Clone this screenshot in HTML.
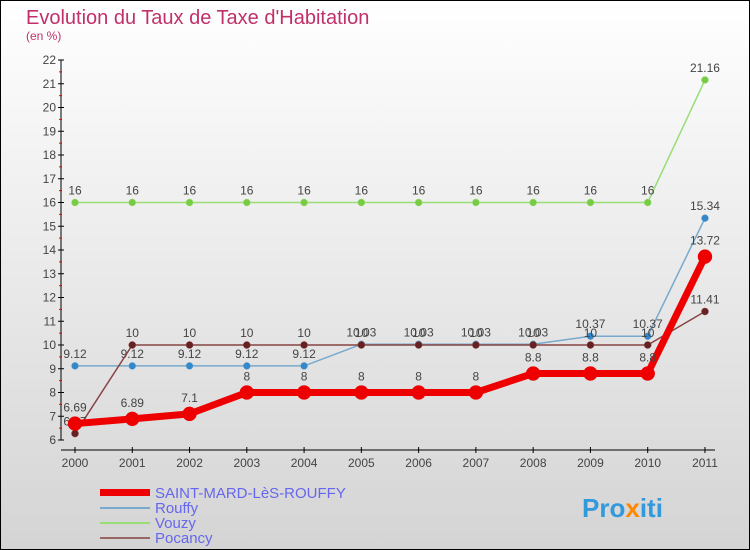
<!DOCTYPE html>
<html><head><meta charset="utf-8"><style>
body{margin:0;width:750px;height:550px;overflow:hidden}
svg{display:block;font-family:"Liberation Sans",sans-serif}
</style></head><body>
<svg width="750" height="550">
<defs><linearGradient id="bg" x1="0" y1="0" x2="0" y2="1"><stop offset="0" stop-color="#ffffff"/><stop offset="1" stop-color="#d4d4d4"/></linearGradient></defs>
<rect x="0.5" y="0.5" width="749" height="549" fill="url(#bg)" stroke="#000"/>
<text x="26" y="24" font-size="20" fill="#c0306a">Evolution du Taux de Taxe d'Habitation</text>
<text x="26" y="40" font-size="12" fill="#c0306a">(en %)</text>
<g id="axes"></g><g id="series"></g>
<g>
<rect x="100" y="489" width="50" height="7" fill="#ee0000"/>
<text x="155" y="498" font-size="15" fill="#6666ee">SAINT-MARD-LèS-ROUFFY</text>
<rect x="100" y="507" width="50" height="2" fill="#77aacc"/>
<text x="155" y="513" font-size="15" fill="#6666ee">Rouffy</text>
<rect x="100" y="522" width="50" height="2" fill="#99dd77"/>
<text x="155" y="528" font-size="15" fill="#6666ee">Vouzy</text>
<rect x="100" y="537" width="50" height="2" fill="#996666"/>
<text x="155" y="543" font-size="15" fill="#6666ee">Pocancy</text>
</g>
<text x="582" y="517" font-size="26" font-weight="bold" fill="#3399dd">Pro<tspan fill="#ff8800">x</tspan>iti</text>
</svg>
<script>
const years=[2000,2001,2002,2003,2004,2005,2006,2007,2008,2009,2010,2011];
const yTicks=[6,7,8,9,10,11,12,13,14,15,16,17,18,19,20,21,22];
const saintMard=[6.69,6.89,7.1,8,8,8,8,8,8.8,8.8,8.8,13.72];
const rouffy=[9.12,9.12,9.12,9.12,9.12,10.03,10.03,10.03,10.03,10.37,10.37,15.34];
const vouzy=[16,16,16,16,16,16,16,16,16,16,16,21.16];
const pocancy=[6.27,10,10,10,10,10,10,10,10,10,10,11.41];
const NS="http://www.w3.org/2000/svg";
function xS(i){return 75+i*57.27;}
function yS(v){return 440-(v-6)*23.75;}
function mk(t,a,p){const e=document.createElementNS(NS,t);for(const k in a)e.setAttribute(k,a[k]);p.appendChild(e);return e;}
const ax=document.getElementById('axes');
let l=mk('line',{x1:61,y1:yS(22),x2:61,y2:yS(6),stroke:'#000'},ax);

yTicks.forEach(v=>{mk('line',{x1:58,x2:64,y1:yS(v),y2:yS(v),stroke:'#000'},ax);
 if(v<22)mk('line',{x1:59,x2:62,y1:yS(v+0.5),y2:yS(v+0.5),stroke:'#e00'},ax);
 const t=mk('text',{x:56,y:yS(v)+4,'text-anchor':'end','font-size':12,fill:'#444'},ax);t.textContent=v;
 });
l=mk('line',{x1:61,y1:450,x2:715,y2:450,stroke:'#000'},ax);

years.forEach((y,i)=>{mk('line',{x1:xS(i),x2:xS(i),y1:447,y2:453,stroke:'#000'},ax);
 const t=mk('text',{x:xS(i),y:467,'text-anchor':'middle','font-size':12,fill:'#444'},ax);t.textContent=y;
 });
const sg=document.getElementById('series');
function draw(name,data,color,w,r,dot,labelOff){
 const g=mk('g',{},sg);
 const p=mk('polyline',{points:data.map((v,i)=>xS(i)+','+yS(v)).join(' '),fill:'none',stroke:color,'stroke-width':w,'stroke-linejoin':'round'},g);
 
 data.forEach((v,i)=>{const c=mk('circle',{cx:xS(i),cy:yS(v),r:r,fill:dot,stroke:color,'stroke-width':0.5},g);
  
  const t=mk('text',{x:xS(i),y:yS(v)-labelOff,'text-anchor':'middle','font-size':12,fill:'#444'},g);t.textContent=v;
  });
}
draw('vouzy',vouzy,'#99dd77',1.5,3.5,'#77cc44',8);
draw('rouffy',rouffy,'#77aacc',1.5,3.5,'#3388cc',8);
draw('pocancy',pocancy,'#884444',1.5,3.5,'#662222',8);
draw('saint-mard',saintMard,'#ee0000',7,7,'#ee0000',12);
</script>
</body></html>
